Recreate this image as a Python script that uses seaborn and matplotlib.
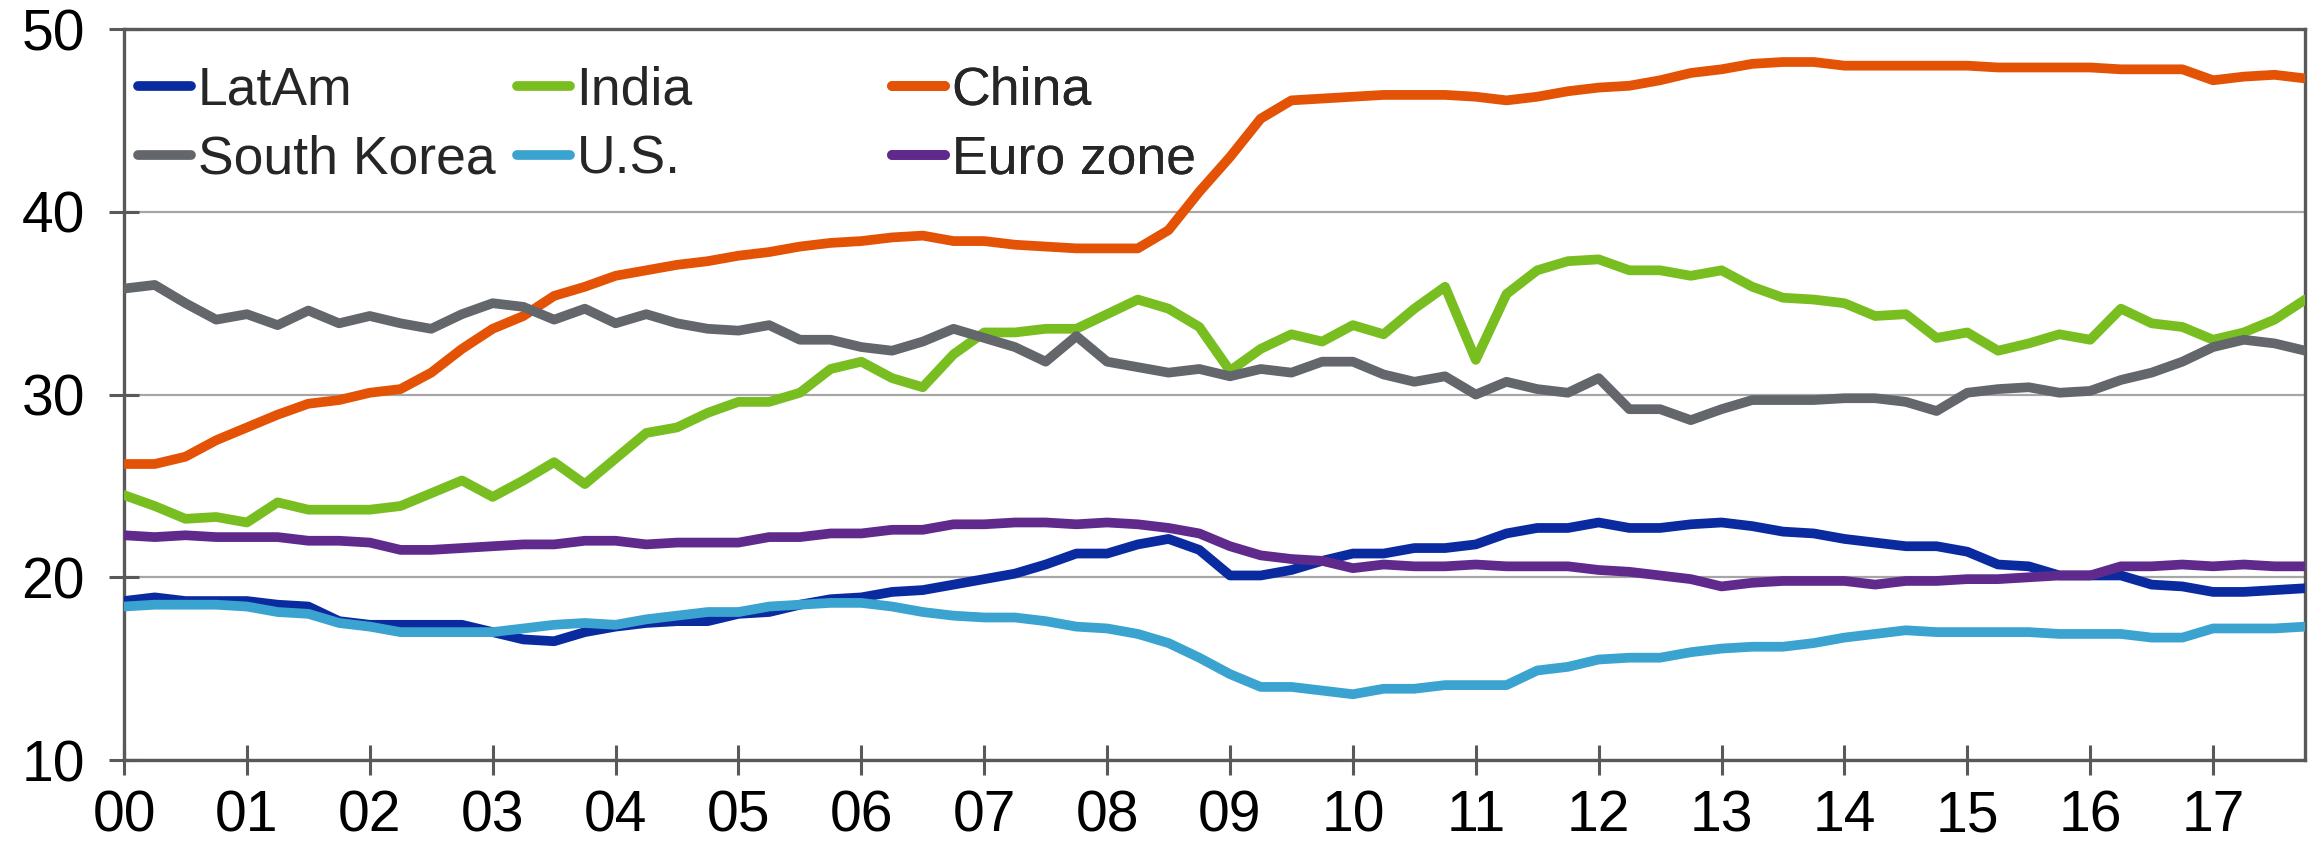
import numpy as np
import pandas as pd
import matplotlib
matplotlib.use("Agg")
import matplotlib.pyplot as plt
from matplotlib.lines import Line2D
import seaborn as sns

# quarterly observations, 2000Q1 .. 2017Q4 (x in years since 2000)
t = np.arange(72) / 4
year_labels = ["00", "01", "02", "03", "04", "05", "06", "07", "08",
               "09", "10", "11", "12", "13", "14", "15", "16", "17"]

latam = [18.7, 18.9, 18.7, 18.7, 18.7, 18.5, 18.4, 17.6, 17.4, 17.4, 17.4, 17.4,
         17.0, 16.6, 16.5, 17.0, 17.3, 17.5, 17.6, 17.6, 18.0, 18.1, 18.5, 18.8,
         18.9, 19.2, 19.3, 19.6, 19.9, 20.2, 20.7, 21.3, 21.3, 21.8, 22.1, 21.5,
         20.1, 20.1, 20.4, 20.9, 21.3, 21.3, 21.6, 21.6, 21.8, 22.4, 22.7, 22.7,
         23.0, 22.7, 22.7, 22.9, 23.0, 22.8, 22.5, 22.4, 22.1, 21.9, 21.7, 21.7,
         21.4, 20.7, 20.6, 20.1, 20.1, 20.1, 19.6, 19.5, 19.2, 19.2, 19.3, 19.4]
india = [24.5, 23.9, 23.2, 23.3, 23.0, 24.1, 23.7, 23.7, 23.7, 23.9, 24.6, 25.3,
         24.4, 25.3, 26.3, 25.1, 26.5, 27.9, 28.2, 29.0, 29.6, 29.6, 30.1, 31.4,
         31.8, 30.9, 30.4, 32.2, 33.4, 33.4, 33.6, 33.6, 34.4, 35.2, 34.7, 33.7,
         31.3, 32.5, 33.3, 32.9, 33.8, 33.3, 34.7, 35.9, 31.9, 35.5, 36.8, 37.3,
         37.4, 36.8, 36.8, 36.5, 36.8, 35.9, 35.3, 35.2, 35.0, 34.3, 34.4, 33.1,
         33.4, 32.4, 32.8, 33.3, 33.0, 34.7, 33.9, 33.7, 33.0, 33.4, 34.1, 35.2]
china = [26.2, 26.2, 26.6, 27.5, 28.2, 28.9, 29.5, 29.7, 30.1, 30.3, 31.2, 32.5,
         33.6, 34.3, 35.4, 35.9, 36.5, 36.8, 37.1, 37.3, 37.6, 37.8, 38.1, 38.3,
         38.4, 38.6, 38.7, 38.4, 38.4, 38.2, 38.1, 38.0, 38.0, 38.0, 39.0, 41.1,
         43.0, 45.1, 46.1, 46.2, 46.3, 46.4, 46.4, 46.4, 46.3, 46.1, 46.3, 46.6,
         46.8, 46.9, 47.2, 47.6, 47.8, 48.1, 48.2, 48.2, 48.0, 48.0, 48.0, 48.0,
         48.0, 47.9, 47.9, 47.9, 47.9, 47.8, 47.8, 47.8, 47.2, 47.4, 47.5, 47.3]
south_korea = [35.8, 36.0, 35.0, 34.1, 34.4, 33.8, 34.6, 33.9, 34.3, 33.9, 33.6, 34.4,
               35.0, 34.8, 34.1, 34.7, 33.9, 34.4, 33.9, 33.6, 33.5, 33.8, 33.0, 33.0,
               32.6, 32.4, 32.9, 33.6, 33.1, 32.6, 31.8, 33.2, 31.8, 31.5, 31.2, 31.4,
               31.0, 31.4, 31.2, 31.8, 31.8, 31.1, 30.7, 31.0, 30.0, 30.7, 30.3, 30.1,
               30.9, 29.2, 29.2, 28.6, 29.2, 29.7, 29.7, 29.7, 29.8, 29.8, 29.6, 29.1,
               30.1, 30.3, 30.4, 30.1, 30.2, 30.8, 31.2, 31.8, 32.6, 33.0, 32.8, 32.4]
us = [18.4, 18.5, 18.5, 18.5, 18.4, 18.1, 18.0, 17.5, 17.3, 17.0, 17.0, 17.0,
      17.0, 17.2, 17.4, 17.5, 17.4, 17.7, 17.9, 18.1, 18.1, 18.4, 18.5, 18.6,
      18.6, 18.4, 18.1, 17.9, 17.8, 17.8, 17.6, 17.3, 17.2, 16.9, 16.4, 15.6,
      14.7, 14.0, 14.0, 13.8, 13.6, 13.9, 13.9, 14.1, 14.1, 14.1, 14.9, 15.1,
      15.5, 15.6, 15.6, 15.9, 16.1, 16.2, 16.2, 16.4, 16.7, 16.9, 17.1, 17.0,
      17.0, 17.0, 17.0, 16.9, 16.9, 16.9, 16.7, 16.7, 17.2, 17.2, 17.2, 17.3]
euro_zone = [22.3, 22.2, 22.3, 22.2, 22.2, 22.2, 22.0, 22.0, 21.9, 21.5, 21.5, 21.6,
             21.7, 21.8, 21.8, 22.0, 22.0, 21.8, 21.9, 21.9, 21.9, 22.2, 22.2, 22.4,
             22.4, 22.6, 22.6, 22.9, 22.9, 23.0, 23.0, 22.9, 23.0, 22.9, 22.7, 22.4,
             21.7, 21.2, 21.0, 20.9, 20.5, 20.7, 20.6, 20.6, 20.7, 20.6, 20.6, 20.6,
             20.4, 20.3, 20.1, 19.9, 19.5, 19.7, 19.8, 19.8, 19.8, 19.6, 19.8, 19.8,
             19.9, 19.9, 20.0, 20.1, 20.1, 20.6, 20.6, 20.7, 20.6, 20.7, 20.6, 20.6]

series_order = ["LatAm", "India", "China", "South Korea", "U.S.", "Euro zone"]
colors = {"LatAm": "#0a2ba0", "India": "#78be20", "China": "#e35205",
          "South Korea": "#63666a", "U.S.": "#3ba3cf", "Euro zone": "#5f2a8c"}

df = pd.DataFrame({"t": t, "LatAm": latam, "India": india, "China": china,
                   "South Korea": south_korea, "U.S.": us, "Euro zone": euro_zone})
long_df = df.melt(id_vars="t", var_name="region", value_name="share")

sns.set_style("white")
plt.rcParams["font.family"] = ["Liberation Sans", "DejaVu Sans"]

fig = plt.figure(figsize=(23.18, 8.44), dpi=100)
ax = fig.add_axes([0.0535, 0.0995, 0.941, 0.866])

sns.lineplot(data=long_df, x="t", y="share", hue="region", hue_order=series_order,
             palette=colors, linewidth=7, legend=False, ax=ax,
             solid_joinstyle="round", zorder=3)

ax.set_xlim(0, 17.75)
ax.set_ylim(10, 50)
ax.set_xticks(range(len(year_labels)))
ax.set_xticklabels(year_labels)
ax.set_yticks([10, 20, 30, 40, 50])
ax.set_xlabel("")
ax.set_ylabel("")

ax.grid(axis="y", color="#a6a6a6", linewidth=1.6)
ax.grid(axis="x", visible=False)
for side in ["left", "right", "top", "bottom"]:
    ax.spines[side].set_visible(True)
    ax.spines[side].set_color("#595959")
    ax.spines[side].set_linewidth(2.4)
ax.tick_params(axis="both", direction="inout", length=22, width=2.2,
               color="#595959", labelsize=41, labelcolor="black",
               bottom=True, left=True, top=False, right=False)
ax.tick_params(axis="y", pad=17)
ax.tick_params(axis="x", pad=10)

# legend: three fixed-width columns, two rows each
columns = [("LatAm", "South Korea"), ("India", "U.S."), ("China", "Euro zone")]
col_x = [0.0064, 0.180, 0.352]
for names, x0 in zip(columns, col_x):
    handles = [Line2D([], [], color=colors[n], linewidth=7, solid_capstyle="round")
               for n in names]
    leg = ax.legend(handles, names, loc="upper left", bbox_to_anchor=(x0, 0.95),
                    frameon=False, borderpad=0, borderaxespad=0, fontsize=38.5,
                    handlelength=1.0, handletextpad=0.12, labelspacing=0.35)
    ax.add_artist(leg)

fig.savefig("out.png", dpi=100)
